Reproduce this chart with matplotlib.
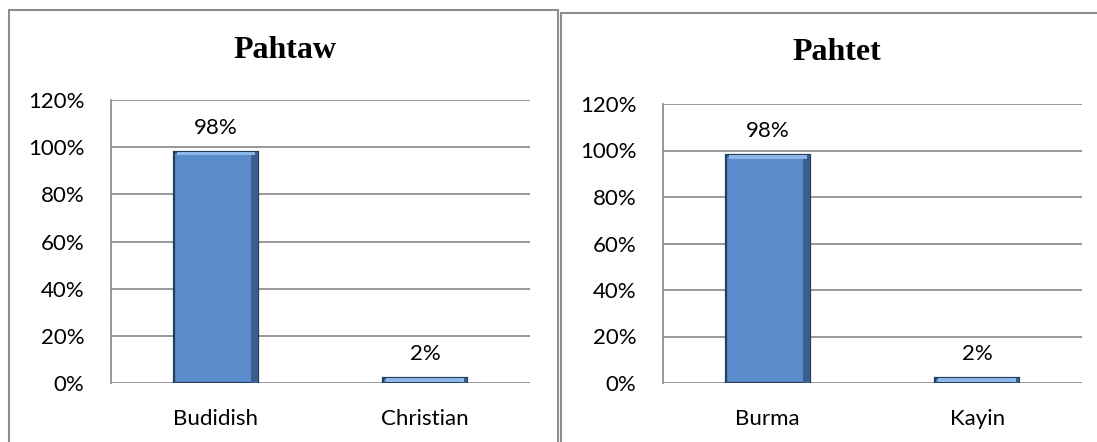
import matplotlib
matplotlib.use("Agg")
import matplotlib.pyplot as plt
from matplotlib.patches import Rectangle
from matplotlib.ticker import FuncFormatter

# Data
titles = ["Pahtaw", "Pahtet"]
categories_left = ["Budidish", "Christian"]
values_left = [0.98, 0.02]
categories_right = ["Burma", "Kayin"]
values_right = [0.98, 0.02]
yticks = [0, 0.2, 0.4, 0.6, 0.8, 1.0, 1.2]

W, H = 1097, 442
fig = plt.figure(figsize=(W / 100, H / 100), dpi=100)
fig.patch.set_facecolor("white")

# Panel borders
fig.patches.append(Rectangle((9 / W, -0.05), (558 - 9) / W, 1.05 - 10 / H,
                             transform=fig.transFigure, fill=False,
                             edgecolor="#8c8c8c", linewidth=1.5, zorder=0))
fig.patches.append(Rectangle((561 / W, -0.05), (1110 - 561) / W, 1.05 - 13 / H,
                             transform=fig.transFigure, fill=False,
                             edgecolor="#8c8c8c", linewidth=1.5, zorder=0))

axes_specs = [
    ([111 / W, (H - 383) / H, 419 / W, 283 / H], categories_left, values_left, titles[0], (285 / W, 1 - 50 / H)),
    ([663 / W, (H - 383) / H, 419 / W, 279 / H], categories_right, values_right, titles[1], (837 / W, 1 - 53 / H)),
]

tick_font = "Lato"
for rect, cats, vals, title, tpos in axes_specs:
    ax = fig.add_axes(rect)
    x = list(range(len(cats)))
    ax.bar(x, vals, width=0.4, color="#5A8BCB", edgecolor="#24405F",
           linewidth=1.6, zorder=3)
    # bevel: darker right side, lighter top edge
    ax.bar([xi + 0.185 for xi in x], vals, width=0.03, color="#3A5F8F",
           linewidth=0, zorder=4)
    ax.bar(x, [min(v, 0.015) for v in vals], bottom=[v - min(v, 0.015) for v in vals],
           width=0.37, color="#8DB6EA", linewidth=0, zorder=4)
    for xi, v in zip(x, vals):
        ax.annotate(f"{v:.0%}", (xi, v), xytext=(0, 10), textcoords="offset points",
                    ha="center", va="bottom", fontsize=16, family=tick_font, color="black")
    ax.set_xlim(-0.5, len(cats) - 0.5)
    ax.set_ylim(0, 1.2)
    ax.set_yticks(yticks)
    ax.yaxis.set_major_formatter(FuncFormatter(lambda v, p: f"{v:.0%}"))
    ax.set_xticks(x)
    ax.set_xticklabels(cats)
    ax.tick_params(axis="both", length=0, labelsize=16, colors="black")
    ax.tick_params(axis="y", pad=19)
    ax.tick_params(axis="x", pad=19)
    for lab in ax.get_xticklabels() + ax.get_yticklabels():
        lab.set_family(tick_font)
    ax.grid(axis="y", color="#868686", linewidth=1.2, zorder=1)
    ax.set_axisbelow(True)
    for s in ["top", "right", "bottom"]:
        ax.spines[s].set_visible(False)
    ax.spines["left"].set_color("#868686")
    ax.spines["left"].set_linewidth(1.2)
    ax.set_facecolor("none")
    fig.text(tpos[0], tpos[1], title, ha="center", va="center", fontsize=23,
             fontweight="bold", family="Liberation Serif")

fig.savefig("out.png", dpi=100)
